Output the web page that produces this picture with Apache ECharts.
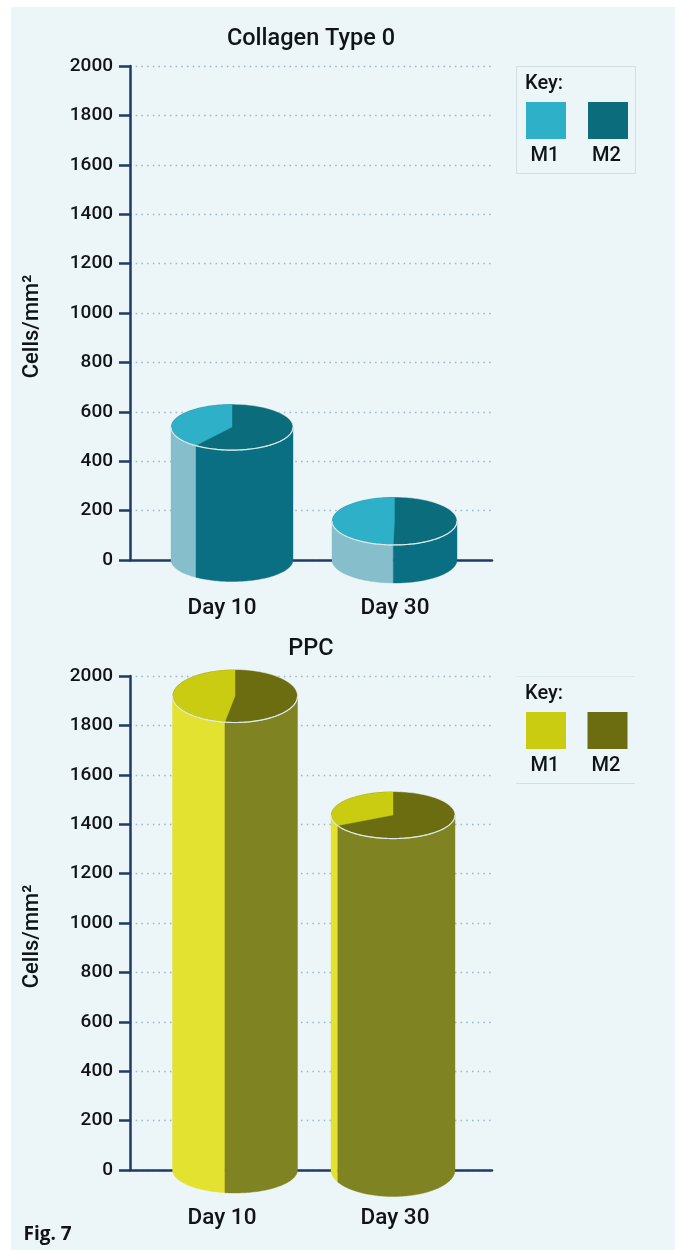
<!DOCTYPE html>
<html>
<head>
<meta charset="utf-8">
<style>html,body{margin:0;padding:0;background:#fff}#c{width:681px;height:1250px}</style>
<script src="https://cdn.jsdelivr.net/npm/echarts@6/dist/echarts.min.js"></script>
</head>
<body>
<div id="c"></div>
<script>
// ---- data ----
var categories = ['Day 10', 'Day 30'];
var yTicks = [0, 200, 400, 600, 800, 1000, 1200, 1400, 1600, 1800, 2000];
var seriesNames = ['M1', 'M2'];
var collagenTitle = 'Collagen Type 0';
var collagenM1 = [215, 78.5];
var collagenM2 = [323, 79.5];
var ppcTitle = 'PPC';
var ppcM1 = [910, 467];
var ppcM2 = [1009, 970];
var yAxisName = 'Cells/mm\u00B2';
var legendTitle = 'Key:';
var figureNote = 'Fig. 7';

// ---- appearance ----
var navy = '#1E3A66', ink = '#111417', panelColor = '#ECF5F8';
var teal = { topM1: '#2EB0C8', topM2: '#0B6C7B', sideM1: '#86BECB', sideM2: '#0B6F83' };
var olive = { topM1: '#C9CC10', topM2: '#6B6D10', sideM1: '#E3E230', sideM2: '#7F8321' };
// [radius x, top radius y, bottom radius y] per cylinder
var collagenShape = [[61, 23, 21.5], [62.5, 24, 23]];
var ppcShape = [[62.5, 26.5, 23], [62, 23.5, 26.5]];

function ellipsePoints(cx, cy, rx, ry, a0, a1) {
  // angle measured from 12 o'clock going counter-clockwise
  var pts = [], n = Math.max(4, Math.ceil(Math.abs(a1 - a0) / 0.03));
  for (var i = 0; i <= n; i++) {
    var a = a0 + (a1 - a0) * i / n;
    pts.push([cx - rx * Math.sin(a), cy - ry * Math.cos(a)]);
  }
  return pts;
}
function poly(points, fill, z) {
  return { type: 'polygon', z2: z, shape: { points: points },
    style: { fill: fill, stroke: fill, lineWidth: 0.4 } };
}
function cylinderRenderer(colors, shapes) {
  return function (params, api) {
    var i = api.value(0), m1 = api.value(1), m2 = api.value(2);
    var total = m1 + m2, f = m1 / total, ang = f * 2 * Math.PI;
    var top = api.coord([i, total]), base = api.coord([i, 0]);
    var cx = top[0], ty = top[1], by = base[1];
    var s = shapes[i], rx = s[0], ryT = s[1], ryB = s[2];
    var PI = Math.PI, kids = [];
    var HALF = PI / 2, END = 1.5 * PI;
    // side walls: visible front runs from 9 o'clock (HALF) to 3 o'clock (END)
    var split = Math.min(Math.max(ang, HALF), END);
    var sideM1 = ellipsePoints(cx, ty, rx, ryT, HALF, split)
      .concat(ellipsePoints(cx, by, rx, ryB, split, HALF));
    var sideM2 = ellipsePoints(cx, ty, rx, ryT, split, END)
      .concat(ellipsePoints(cx, by, rx, ryB, END, split));
    kids.push(poly(sideM1, colors.sideM1, 1));
    kids.push(poly(sideM2, colors.sideM2, 1));
    kids.push({ type: 'polygon', z2: 2, shape: { points: ellipsePoints(cx, ty, rx, ryT, 0, 2 * PI) },
      style: { fill: colors.topM2, stroke: 'rgba(240,247,248,0.55)', lineWidth: 1 } });
    kids.push(poly([[cx, ty]].concat(ellipsePoints(cx, ty, rx - 0.4, ryT - 0.4, 0, ang)), colors.topM1, 3));
    // brighter front rim of the top face
    kids.push({ type: 'polyline', z2: 4, shape: { points: ellipsePoints(cx, ty, rx, ryT, HALF, END) },
      style: { fill: null, stroke: '#DCE9E8', lineWidth: 1.2 } });
    return { type: 'group', children: kids };
  };
}
var titles = [], grids = [], xAxes = [], yAxes = [], series = [], legendEls = [];

function addPanel(opt) {
  var g = grids.length, xi = xAxes.length, yi = yAxes.length;
  var top = opt.top, h = 494;
  // grid A: axes and dotted rules; grid B: category labels; grid C: cylinders
  grids.push({ left: 130, width: 362, top: top, height: h });
  grids.push({ left: 135.5, width: 346, top: top, height: h });
  grids.push({ left: opt.barLeft, width: opt.barWidth, top: top, height: h });
  xAxes.push({ gridIndex: g, type: 'category', data: categories, axisTick: { show: false },
    axisLabel: { show: false }, axisLine: { lineStyle: { color: navy, width: 2.5 } } });
  xAxes.push({ gridIndex: g + 1, type: 'category', data: categories, axisTick: { show: false },
    axisLine: { show: false },
    axisLabel: { margin: 37, color: ink, fontFamily: 'Roboto', fontWeight: 500, fontSize: 22.5 } });
  xAxes.push({ gridIndex: g + 2, type: 'category', data: categories, show: false });
  yAxes.push({ gridIndex: g, type: 'value', min: 0, max: 2000, interval: 200,
    name: yAxisName, nameLocation: 'middle', nameGap: 87,
    nameTextStyle: { color: ink, fontFamily: 'Roboto', fontWeight: 500, fontSize: 22, padding: [0, 27, 0, 0] },
    axisLine: { show: true, lineStyle: { color: navy, width: 2.5 } },
    axisTick: { show: true, length: 11, lineStyle: { color: navy, width: 2.5 } },
    axisLabel: { margin: 17, color: ink, fontFamily: 'Roboto', fontWeight: 500, fontSize: 19, padding: [4, 0, 0, 0],
      formatter: function (v) { return String(v); } },
    splitLine: { show: true, lineStyle: { color: '#9DB6C6', type: [1.5, 4.2], width: 1.3 } } });
  yAxes.push({ gridIndex: g + 1, type: 'value', min: 0, max: 2000, show: false, splitLine: { show: false } });
  yAxes.push({ gridIndex: g + 2, type: 'value', min: 0, max: 2000, show: false, splitLine: { show: false } });
  titles.push({ text: opt.title, left: 306, top: opt.titleTop, textAlign: 'center',
    textStyle: { color: ink, fontFamily: 'Roboto', fontWeight: 500, fontSize: 23.5 } });
  series.push({
    type: 'custom', name: opt.title, xAxisIndex: xi + 2, yAxisIndex: yi + 2, clip: false, z: 5,
    renderItem: cylinderRenderer(opt.colors, opt.shape),
    encode: { x: 0, y: [1, 2] },
    data: categories.map(function (c, i) { return [i, opt.m1[i], opt.m2[i]]; })
  });
  // key box
  if (opt.keySides) {
    legendEls.push({ type: 'rect', z: 1, shape: { x: 516.5, y: top + 0.5, width: 119, height: 107 },
      style: { fill: 'transparent', stroke: '#D4DFE4', lineWidth: 1 } });
  } else {
    legendEls.push({ type: 'line', z: 1, shape: { x1: 516, y1: top + 0.5, x2: 635, y2: top + 0.5 },
      style: { stroke: '#DFE8EC', lineWidth: 1 } });
    legendEls.push({ type: 'line', z: 1, shape: { x1: 516, y1: top + 107.5, x2: 635, y2: top + 107.5 },
      style: { stroke: '#D4DFE4', lineWidth: 1 } });
  }
  legendEls.push({ type: 'text', z: 2, style: { x: 525, y: top + 18, text: legendTitle, fill: ink,
    font: '500 20px Roboto', verticalAlign: 'middle' } });
  [[526, opt.colors.topM1, 19], [opt.keyX2, opt.colors.topM2, 18.5]].forEach(function (p, k) {
    legendEls.push({ type: 'rect', z: 2, shape: { x: p[0], y: top + 36, width: 40, height: 37 },
      style: { fill: p[1] } });
    legendEls.push({ type: 'text', z: 2, style: { x: p[0] + p[2], y: top + 90, text: seriesNames[k], fill: ink,
      font: '500 20px Roboto', align: 'center', verticalAlign: 'middle' } });
  });
}

addPanel({ title: collagenTitle, top: 66, titleTop: 22, m1: collagenM1, m2: collagenM2, keySides: true, keyX2: 588,
  colors: teal, shape: collagenShape, barLeft: 150.75, barWidth: 325 });
addPanel({ title: ppcTitle, top: 676, titleTop: 632, m1: ppcM1, m2: ppcM2, keySides: false, keyX2: 587.5,
  colors: olive, shape: ppcShape, barLeft: 156, barWidth: 316 });

var chart = echarts.init(document.getElementById('c'), null, { renderer: 'canvas' });
chart.setOption({
  animation: false,
  backgroundColor: '#ffffff',
  title: titles,
  grid: grids,
  xAxis: xAxes,
  yAxis: yAxes,
  series: series,
  graphic: { elements: [
    { type: 'rect', z: -10, silent: true, shape: { x: 11, y: 7, width: 664, height: 1243 }, style: { fill: panelColor } }
  ].concat(legendEls).concat([
    { type: 'text', z: 2, style: { x: 23.5, y: 1235, text: figureNote, fill: ink,
      font: '700 19px "Open Sans"', verticalAlign: 'middle' } }
  ]) }
});
</script>
</body>
</html>
